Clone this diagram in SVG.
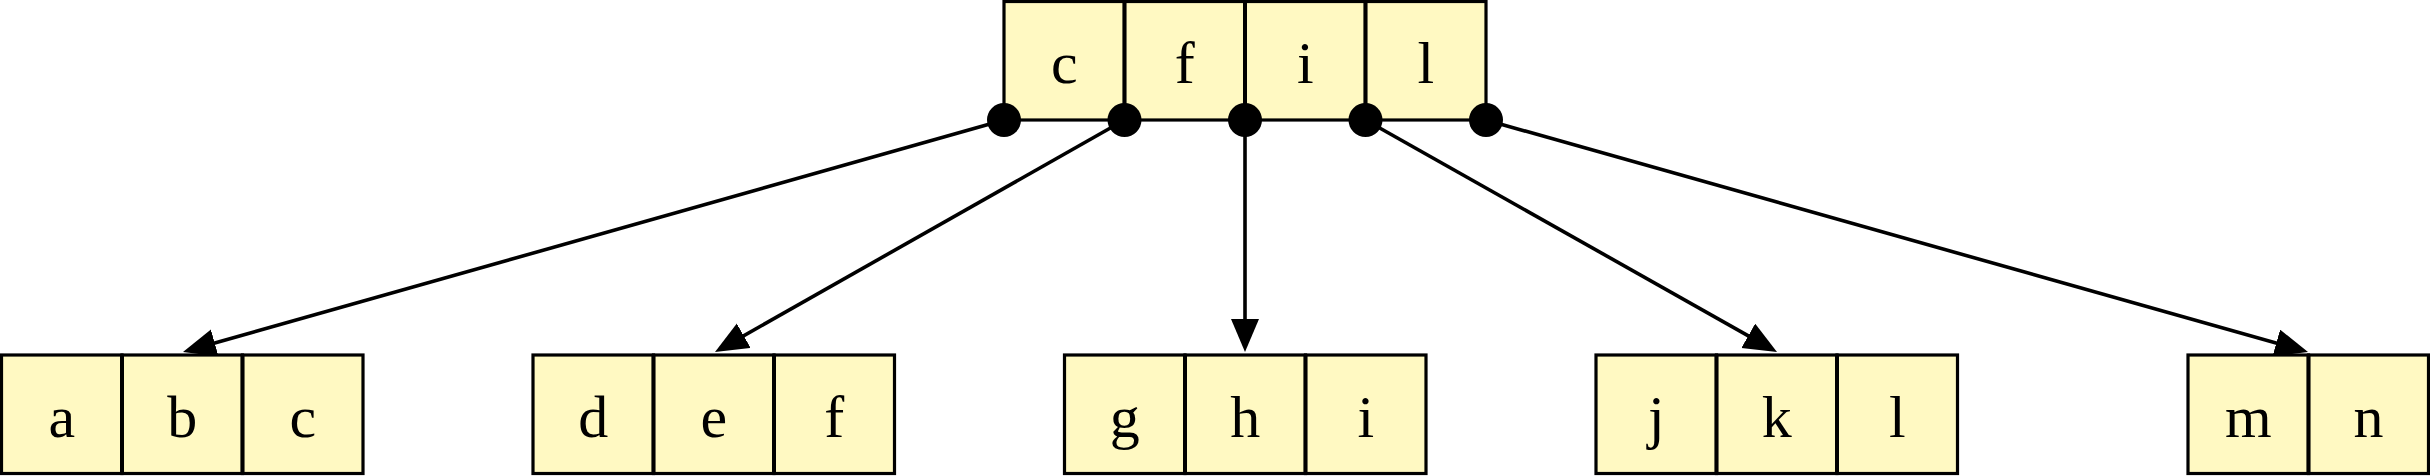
<svg xmlns="http://www.w3.org/2000/svg" width="2430" height="476" viewBox="0 0 2430 476">
  <style>
    .cell { fill: #FFF9C2; stroke: #000; stroke-width: 3.2; }
    .div { stroke: #000; stroke-width: 4; }
    .lbl { font-family: "Liberation Serif", "DejaVu Serif", serif; font-size: 60px; fill: #000; text-anchor: middle; }
    .edge { stroke: #000; stroke-width: 3.6; fill: none; marker-end: url(#arrow); }
    .dot { fill: #000; }
  </style>
  <defs>
    <marker id="arrow" markerUnits="userSpaceOnUse" markerWidth="34" markerHeight="30" refX="23" refY="14" orient="auto">
      <path d="M0,0 L33,14 L0,28 z" fill="#000"/>
    </marker>
  </defs>
  <rect width="2430" height="476" fill="#fff"/>

  <g id="connectors">
    <line class="edge" x1="1004" y1="120" x2="192.6" y2="349.3"/>
    <line class="edge" x1="1124.5" y1="120" x2="723.7" y2="347.1"/>
    <line class="edge" x1="1245" y1="120" x2="1245" y2="342"/>
    <line class="edge" x1="1365.5" y1="120" x2="1768.3" y2="347.1"/>
    <line class="edge" x1="1486" y1="120" x2="2298.4" y2="349.3"/>
  </g>

  <g id="root">
    <rect class="cell" x="1004" y="1.5" width="120.5" height="118.5"/>
    <rect class="cell" x="1124.5" y="1.5" width="120.5" height="118.5"/>
    <rect class="cell" x="1245" y="1.5" width="120.5" height="118.5"/>
    <rect class="cell" x="1365.5" y="1.5" width="120.5" height="118.5"/>
    <line class="div" x1="1124.5" y1="1.5" x2="1124.5" y2="120"/>
    <line class="div" x1="1245" y1="1.5" x2="1245" y2="120"/>
    <line class="div" x1="1365.5" y1="1.5" x2="1365.5" y2="120"/>
    <text class="lbl" x="1064.25" y="83">c</text>
    <text class="lbl" x="1184.75" y="83">f</text>
    <text class="lbl" x="1305.25" y="83">i</text>
    <text class="lbl" x="1425.75" y="83">l</text>
    <circle class="dot" cx="1004" cy="120" r="17"/>
    <circle class="dot" cx="1124.5" cy="120" r="17"/>
    <circle class="dot" cx="1245" cy="120" r="17"/>
    <circle class="dot" cx="1365.5" cy="120" r="17"/>
    <circle class="dot" cx="1486" cy="120" r="17"/>
  </g>

  <g id="leaf-abc">
    <rect class="cell" x="1.5" y="355" width="120.5" height="118.5"/>
    <rect class="cell" x="122" y="355" width="120.5" height="118.5"/>
    <rect class="cell" x="242.5" y="355" width="120.5" height="118.5"/>
    <line class="div" x1="122" y1="355" x2="122" y2="473.5"/>
    <line class="div" x1="242.5" y1="355" x2="242.5" y2="473.5"/>
    <text class="lbl" x="61.75" y="437">a</text>
    <text class="lbl" x="182.25" y="437">b</text>
    <text class="lbl" x="302.75" y="437">c</text>
  </g>

  <g id="leaf-def">
    <rect class="cell" x="533" y="355" width="120.5" height="118.5"/>
    <rect class="cell" x="653.5" y="355" width="120.5" height="118.5"/>
    <rect class="cell" x="774" y="355" width="120.5" height="118.5"/>
    <line class="div" x1="653.5" y1="355" x2="653.5" y2="473.5"/>
    <line class="div" x1="774" y1="355" x2="774" y2="473.5"/>
    <text class="lbl" x="593.25" y="437">d</text>
    <text class="lbl" x="713.75" y="437">e</text>
    <text class="lbl" x="834.25" y="437">f</text>
  </g>

  <g id="leaf-ghi">
    <rect class="cell" x="1064.5" y="355" width="120.5" height="118.5"/>
    <rect class="cell" x="1185" y="355" width="120.5" height="118.5"/>
    <rect class="cell" x="1305.5" y="355" width="120.5" height="118.5"/>
    <line class="div" x1="1185" y1="355" x2="1185" y2="473.5"/>
    <line class="div" x1="1305.5" y1="355" x2="1305.5" y2="473.5"/>
    <text class="lbl" x="1124.75" y="437">g</text>
    <text class="lbl" x="1245.25" y="437">h</text>
    <text class="lbl" x="1365.75" y="437">i</text>
  </g>

  <g id="leaf-jkl">
    <rect class="cell" x="1596" y="355" width="120.5" height="118.5"/>
    <rect class="cell" x="1716.5" y="355" width="120.5" height="118.5"/>
    <rect class="cell" x="1837" y="355" width="120.5" height="118.5"/>
    <line class="div" x1="1716.5" y1="355" x2="1716.5" y2="473.5"/>
    <line class="div" x1="1837" y1="355" x2="1837" y2="473.5"/>
    <text class="lbl" x="1656.25" y="437">j</text>
    <text class="lbl" x="1776.75" y="437">k</text>
    <text class="lbl" x="1897.25" y="437">l</text>
  </g>

  <g id="leaf-mn">
    <rect class="cell" x="2188" y="355" width="120.5" height="118.5"/>
    <rect class="cell" x="2308.5" y="355" width="120" height="118.5"/>
    <line class="div" x1="2308.5" y1="355" x2="2308.5" y2="473.5"/>
    <text class="lbl" x="2248.25" y="437">m</text>
    <text class="lbl" x="2368.5" y="437">n</text>
  </g>
</svg>
